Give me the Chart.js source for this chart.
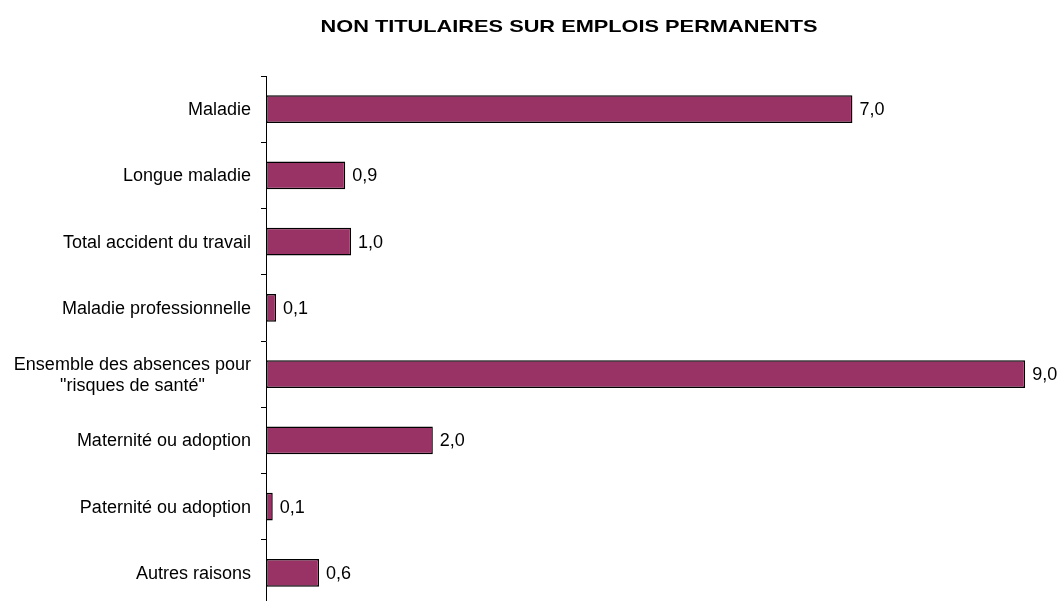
<!DOCTYPE html>
<html>
<head>
<meta charset="utf-8">
<script src="https://cdn.jsdelivr.net/npm/chart.js@4.4.0/dist/chart.umd.min.js"></script>
<style>
  html, body { margin: 0; padding: 0; overflow: hidden; background: #fff; }
  #wrap { width: 1058px; height: 601px; overflow: hidden; }
</style>
</head>
<body>
<div id="wrap"><canvas id="absChart" width="1058" height="610"></canvas></div>
<script>
const chartTitle = 'NON TITULAIRES SUR EMPLOIS PERMANENTS';
const categories = [
    'Maladie',
    'Longue maladie',
    'Total accident du travail',
    'Maladie professionnelle',
    ['Ensemble des absences pour', '"risques de santé"'],
    'Maternité ou adoption',
    'Paternité ou adoption',
    'Autres raisons'
];
const values = [6.96, 0.94, 1.01, 0.12, 9.01, 1.98, 0.08, 0.63];

const fmt = v => v.toFixed(1).replace('.', ',');

// title, category labels and value labels drawn by hand
const labelPlugin = {
    id: 'labelPlugin',
    afterDraw(chart) {
        const ctx = chart.ctx;
        const yScale = chart.scales.y;
        ctx.save();
        ctx.fillStyle = '#000';

        // title (stretched like the original)
        ctx.font = 'bold 17px "Liberation Sans", Arial, sans-serif';
        ctx.textAlign = 'center';
        ctx.textBaseline = 'alphabetic';
        ctx.save();
        ctx.translate(569, 32);
        ctx.scale(1.28, 1);
        ctx.fillText(chartTitle, 0, 0);
        ctx.restore();

        // category labels
        ctx.font = '18px "Liberation Sans", Arial, sans-serif';
        ctx.textBaseline = 'middle';
        const rightEdge = yScale.left - 10;
        categories.forEach((cat, i) => {
            const y = yScale.getPixelForValue(i) + 1;
            const lines = Array.isArray(cat) ? cat : [cat];
            const widths = lines.map(l => ctx.measureText(l).width);
            const maxW = Math.max(...widths);
            const cx = rightEdge - maxW / 2;
            const lh = 21;
            lines.forEach((l, j) => {
                ctx.textAlign = 'center';
                ctx.fillText(l, cx, y + (j - (lines.length - 1) / 2) * lh);
            });
        });

        // value labels
        const meta = chart.getDatasetMeta(0);
        ctx.textAlign = 'left';
        meta.data.forEach((bar, i) => {
            ctx.fillText(fmt(values[i]), bar.x + 7, bar.y + 1);
        });
        ctx.restore();
    }
};

const ctx = document.getElementById('absChart').getContext('2d');
const myChart = new Chart(ctx, {
    type: 'bar',
    data: {
        labels: categories,
        datasets: [{
            data: values,
            backgroundColor: '#993366',
            borderColor: '#000',
            borderWidth: 1.5,
            borderSkipped: false,
            categoryPercentage: 1,
            barPercentage: 0.42
        }]
    },
    options: {
        indexAxis: 'y',
        responsive: false,
        animation: false,
        layout: { padding: { left: 261, right: 0, top: 76, bottom: 4 } },
        plugins: {
            legend: { display: false },
            title: { display: false },
            tooltip: { enabled: false }
        },
        scales: {
            x: {
                display: false,
                min: 0,
                max: 9.4
            },
            y: {
                ticks: { display: false },
                grid: {
                    drawOnChartArea: false,
                    tickLength: 5,
                    color: '#000',
                    lineWidth: 1
                },
                border: { color: '#000', width: 1 }
            }
        }
    },
    plugins: [labelPlugin]
});
</script>
</body>
</html>
